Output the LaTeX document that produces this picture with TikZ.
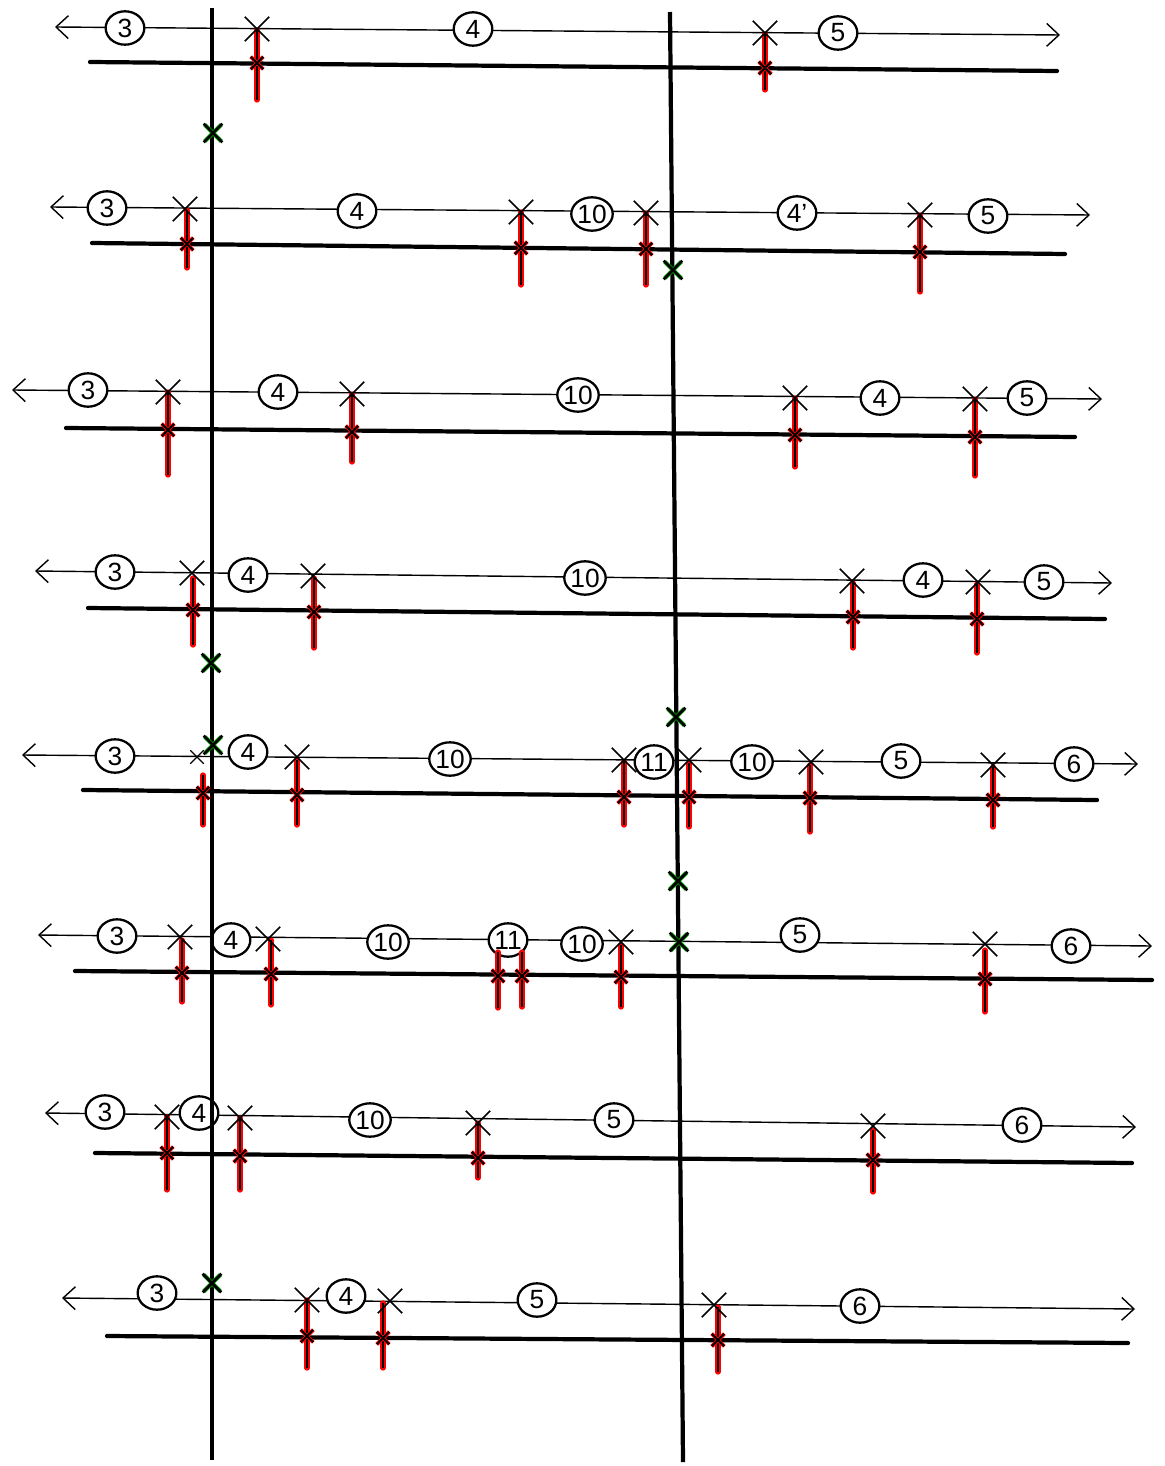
\documentclass[tikz,border=0pt]{standalone}
\usepackage{fontspec}
\setmainfont{Liberation Sans}
\usetikzlibrary{arrows.meta,shapes.geometric,shapes.misc}
\newcommand\redmark[4]{%
  \draw[redbar] (#1,#2) -- (#1,#3);
  \draw[redcore] (#1,#2) -- (#1,#3);
  \node[redtick] at (#1,#4) {};
  \node[blacktick] at (#1,#4) {};}
\newcommand\greenmark[3]{%
  \node[gglow] at (#2,#3) {};
  \node[gx] (#1) at (#2,#3) {};}
\begin{document}
\begin{tikzpicture}[x=0.02cm,y=-0.02cm,
  thinline/.style={line width=0.8pt,
     {Straight Barb[length=7pt,width=13pt,line width=0.8pt]}-{Straight Barb[length=7pt,width=13pt,line width=0.8pt]}},
  thickline/.style={line width=2.4pt, line cap=round},
  axis/.style={line width=2.4pt},
  num/.style={ellipse, draw, line width=1.3pt, fill=white, inner sep=0pt,
     minimum width=22pt, minimum height=19pt, font=\fontsize{15}{17}\selectfont},
  xm/.style={cross out, draw, line width=0.9pt, minimum size=13pt, inner sep=0pt},
  xms/.style={cross out, draw, line width=0.7pt, minimum size=7pt, inner sep=0pt},
  redbar/.style={red, line width=3pt, line cap=round},
  redcore/.style={black, line width=0.7pt},
  redtick/.style={cross out, draw=red, line width=2.2pt, minimum size=5pt, inner sep=0pt},
  blacktick/.style={cross out, draw=black, line width=1.1pt, minimum size=6pt, inner sep=0pt},
  gglow/.style={cross out, draw=green!70!black, line width=2.4pt, minimum size=7pt, inner sep=0pt},
  gx/.style={cross out, draw=black, line width=1.6pt, minimum size=9pt, inner sep=0pt}
]
\fill[white] (0,0) rectangle (1165,1466);
\useasboundingbox (0,0) rectangle (1165,1466);

% ---------- Row 1 ----------
\coordinate (r1L) at (55,27); \coordinate (r1R) at (1060,35);
\draw[thinline] (r1L) -- (r1R);
\node[num] (r1a) at (125,28) {3};
\node[num] (r1b) at (473,29) {4};
\node[num] (r1c) at (838,33) {5};
% ---------- Row 2 ----------
\coordinate (r2L) at (50,207); \coordinate (r2R) at (1090,215);
\draw[thinline] (r2L) -- (r2R);
\node[num] (r2a) at (107,208) {3};
\node[num] (r2b) at (357,211) {4};
\node[num] (r2c) at (592,214) {10};
\node[num] (r2d) at (797,213) {4'};
\node[num] (r2e) at (988,216) {5};
% ---------- Row 3 ----------
\coordinate (r3L) at (12,390); \coordinate (r3R) at (1102,399);
\draw[thinline] (r3L) -- (r3R);
\node[num] (r3a) at (88,390) {3};
\node[num] (r3b) at (278,392) {4};
\node[num] (r3c) at (578,395) {10};
\node[num] (r3d) at (880,398) {4};
\node[num] (r3e) at (1027,398) {5};
% ---------- Row 4 ----------
\coordinate (r4L) at (35,571); \coordinate (r4R) at (1112,583);
\draw[thinline] (r4L) -- (r4R);
\node[num] (r4a) at (115,572) {3};
\node[num] (r4b) at (248,575) {4};
\node[num] (r4c) at (585,578) {10};
\node[num] (r4d) at (923,580) {4};
\node[num] (r4e) at (1044,582) {5};
% ---------- Row 5 ----------
\coordinate (r5L) at (22,755); \coordinate (r5R) at (1138,764);
\draw[thinline] (r5L) -- (r5R);
\node[num] (r5a) at (115,756) {3};
\node[num] (r5b) at (248,752) {4};
\node[num] (r5c) at (450,759) {10};
\node[num, minimum width=19pt] (r5d) at (654,762) {11};
\node[num] (r5e) at (752,762) {10};
\node[num] (r5f) at (901,761) {5};
\node[num] (r5g) at (1074,764) {6};
% ---------- Row 6 ----------
\coordinate (r6L) at (38,935); \coordinate (r6R) at (1152,946);
\draw[thinline] (r6L) -- (r6R);
\node[num] (r6a) at (117,936) {3};
\node[num] (r6b) at (231,940) {4};
\node[num] (r6c) at (388,942) {10};
\node[num, minimum width=19pt] (r6d) at (508,940) {11};
\node[num] (r6e) at (582,944) {10};
\node[num] (r6f) at (800,935) {5};
\node[num] (r6g) at (1071,946) {6};
% ---------- Row 7 ----------
\coordinate (r7L) at (45,1113); \coordinate (r7R) at (1136,1127);
\draw[thinline] (r7L) -- (r7R);
\node[num] (r7a) at (105,1112) {3};
\node[num] (r7b) at (199,1113) {4};
\node[num] (r7c) at (370,1120) {10};
\node[num] (r7d) at (614,1120) {5};
\node[num] (r7e) at (1022,1125) {6};
% ---------- Row 8 ----------
\coordinate (r8L) at (62,1298); \coordinate (r8R) at (1135,1309);
\draw[thinline] (r8L) -- (r8R);
\node[num] (r8a) at (157,1293) {3};
\node[num] (r8b) at (346,1296) {4};
\node[num] (r8c) at (537,1300) {5};
\node[num] (r8d) at (860,1306) {6};

% ---------- vertical axes ----------
\coordinate (vAt) at (212,8);  \coordinate (vAb) at (212,1460);
\coordinate (vBt) at (670,12); \coordinate (vBb) at (683,1462);
\draw[axis] (vAt) -- (vAb);
\draw[axis] (vBt) -- (vBb);

% ---------- thick lines ----------
\coordinate (t1L) at (90,62);    \coordinate (t1R) at (1057,71);
\coordinate (t2L) at (92,243);   \coordinate (t2R) at (1065,254);
\coordinate (t3L) at (66,428);   \coordinate (t3R) at (1075,437);
\coordinate (t4L) at (88,608);   \coordinate (t4R) at (1105,619);
\coordinate (t5L) at (83,790);   \coordinate (t5R) at (1097,800);
\coordinate (t6L) at (75,971);   \coordinate (t6R) at (1152,980);
\coordinate (t7L) at (95,1153);  \coordinate (t7R) at (1132,1163);
\coordinate (t8L) at (107,1336); \coordinate (t8R) at (1128,1343);
\foreach \i in {1,...,8} {\draw[thickline] (t\i L) -- (t\i R);}

% ---------- red bars ----------
\redmark{257}{30}{100}{63}
\redmark{765}{34}{90}{68}
\redmark{187}{210}{268}{244}
\redmark{521}{212}{285}{248}
\redmark{646}{213}{285}{249}
\redmark{920}{215}{292}{252}
\redmark{168}{392}{475}{430}
\redmark{352}{394}{462}{432}
\redmark{795}{398}{467}{435}
\redmark{975}{399}{476}{437}
\redmark{193}{578}{645}{610}
\redmark{314}{578}{648}{612}
\redmark{853}{583}{648}{617}
\redmark{977}{584}{653}{619}
\redmark{203}{775}{825}{793}
\redmark{297}{760}{825}{795}
\redmark{624}{762}{825}{797}
\redmark{689}{763}{827}{797}
\redmark{810}{765}{832}{798}
\redmark{993}{767}{827}{800}
\redmark{182}{940}{1002}{973}
\redmark{271}{940}{1005}{974}
\redmark{498}{952}{1008}{976}
\redmark{522}{952}{1007}{976}
\redmark{621}{945}{1007}{977}
\redmark{985}{950}{1012}{979}
\redmark{167}{1117}{1190}{1153}
\redmark{240}{1118}{1190}{1156}
\redmark{478}{1123}{1178}{1158}
\redmark{873}{1130}{1192}{1160}
\redmark{307}{1300}{1368}{1336}
\redmark{383}{1303}{1368}{1338}
\redmark{718}{1307}{1372}{1340}

% ---------- X markers on thin lines ----------
\node[xm] (m1a) at (257,29) {};
\node[xm] (m1b) at (765,33) {};
\node[xm] (m2a) at (185,209) {};
\node[xm] (m2b) at (521,212) {};
\node[xm] (m2c) at (646,213) {};
\node[xm] (m2d) at (920,215) {};
\node[xm] (m3a) at (168,392) {};
\node[xm] (m3b) at (352,394) {};
\node[xm] (m3c) at (795,398) {};
\node[xm] (m3d) at (975,399) {};
\node[xm] (m4a) at (192,573) {};
\node[xm] (m4b) at (313,576) {};
\node[xm] (m4c) at (852,581) {};
\node[xm] (m4d) at (978,582) {};
\node[xms] (m5a) at (197,757) {};
\node[xm] (m5b) at (297,757) {};
\node[xm] (m5c) at (624,760) {};
\node[xm] (m5d) at (689,760) {};
\node[xm] (m5e) at (811,762) {};
\node[xm] (m5f) at (993,765) {};
\node[xm] (m6a) at (180,937) {};
\node[xm] (m6b) at (268,939) {};
\node[xm] (m6c) at (621,942) {};
\node[xm] (m6d) at (985,944) {};
\node[xm] (m7a) at (167,1117) {};
\node[xm] (m7b) at (240,1118) {};
\node[xm] (m7c) at (478,1123) {};
\node[xm] (m7d) at (873,1126) {};
\node[xm] (m8a) at (307,1300) {};
\node[xm] (m8b) at (390,1301) {};
\node[xm] (m8c) at (714,1305) {};

% ---------- green marks on the axes ----------
\greenmark{g1}{213}{133}
\greenmark{g2}{673}{270}
\greenmark{g3}{211}{663}
\greenmark{g4}{213}{745}
\greenmark{g5}{676}{717}
\greenmark{g6}{678}{881}
\greenmark{g7}{679}{942}
\greenmark{g8}{212}{1283}
\end{tikzpicture}
\end{document}
